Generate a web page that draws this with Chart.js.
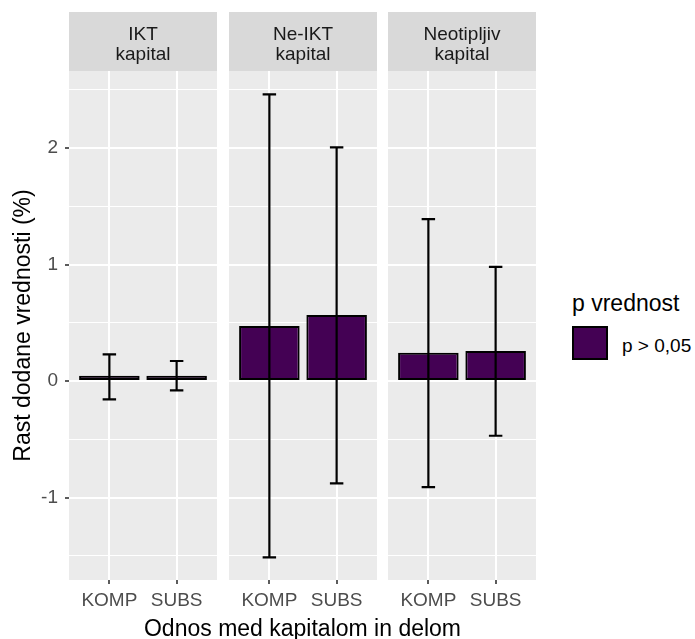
<!DOCTYPE html>
<html><head><meta charset="utf-8">
<script src="https://cdn.jsdelivr.net/npm/chart.js@4"></script>
<style>
html,body{margin:0;padding:0;background:#fff;overflow:hidden;}
#wrap{position:relative;width:695px;height:639px;font-family:'Liberation Sans',Arial,sans-serif;}
canvas{position:absolute;}
.lg-title{position:absolute;left:572px;top:291.5px;font-size:23px;line-height:23px;color:#000;white-space:nowrap;}
.lg-box{position:absolute;left:572px;top:326px;width:36px;height:34px;box-sizing:border-box;border:2px solid #000;}
.lg-label{position:absolute;left:622px;top:335.6px;font-size:19px;line-height:19px;color:#000;white-space:nowrap;}
</style></head>
<body><div id="wrap">
<canvas id="c1" width="217" height="627" style="left:0;top:12px"></canvas>
<canvas id="c3" width="148" height="627" style="left:388px;top:12px"></canvas>
<canvas id="c2" width="467" height="627" style="left:69px;top:12px"></canvas>
<div id="legend"></div>
</div>
<script>
// ---- data ----
const facetTitles = [['IKT', 'kapital'], ['Ne-IKT', 'kapital'], ['Neotipljiv', 'kapital']];
const categories = ['KOMP', 'SUBS'];
const estIKT = [0.045, 0.045];
const estNeIKT = [0.472, 0.567];
const estNeotip = [0.243, 0.258];
const lowIKT = [-0.157, -0.080];
const highIKT = [0.229, 0.172];
const lowNeIKT = [-1.513, -0.878];
const highNeIKT = [2.460, 2.006];
const lowNeotip = [-0.910, -0.470];
const highNeotip = [1.390, 0.980];
const yMajorTicks = [-1, 0, 1, 2];
const yMinorTicks = [-1.5, -0.5, 0.5, 1.5, 2.5];
const seriesLabel = 'p > 0,05';
const legendTitle = 'p vrednost';
const xTitle = 'Odnos med kapitalom in delom';
const yTitle = 'Rast dodane vrednosti (%)';

Chart.defaults.font.family = "'Liberation Sans', Arial, sans-serif";
Chart.defaults.animation = false;

const Y_MIN = -1.708, Y_MAX = 2.661;
const BAR_FILL = '#440154';

const panelPlugin = {
  id: 'panelBg',
  beforeDraw(chart) {
    const {ctx, chartArea: a} = chart;
    ctx.save();
    ctx.fillStyle = '#d9d9d9';
    ctx.fillRect(a.left, 0, a.right - a.left, a.top);
    ctx.fillStyle = '#ebebeb';
    ctx.fillRect(a.left, a.top, a.right - a.left, a.bottom - a.top);
    ctx.restore();
  }
};

const errorBarPlugin = {
  id: 'errorBars',
  afterDatasetsDraw(chart, args, opts) {
    const xs = chart.scales.x, ys = chart.scales.y, ctx = chart.ctx;
    ctx.save();
    ctx.strokeStyle = '#000';
    ctx.lineWidth = 2.2;
    opts.low.forEach((lo, i) => {
      const hi = opts.high[i];
      const pos = i + 1;
      const xc = xs.getPixelForValue(pos);
      const xl = xs.getPixelForValue(pos - 0.1);
      const xr = xs.getPixelForValue(pos + 0.1);
      const yl = ys.getPixelForValue(lo), yh = ys.getPixelForValue(hi);
      ctx.beginPath();
      ctx.moveTo(xl, yh); ctx.lineTo(xr, yh);
      ctx.moveTo(xc, yh); ctx.lineTo(xc, yl);
      ctx.moveTo(xl, yl); ctx.lineTo(xr, yl);
      ctx.stroke();
    });
    ctx.restore();
  }
};

const htmlLegendPlugin = {
  id: 'htmlLegend',
  afterUpdate(chart, args, opts) {
    if (!opts.containerID) return;
    const box = document.getElementById(opts.containerID);
    box.innerHTML = '';
    const t = document.createElement('div');
    t.className = 'lg-title'; t.textContent = opts.title;
    box.appendChild(t);
    const items = Chart.defaults.plugins.legend.labels.generateLabels(chart);
    items.forEach(it => {
      const sw = document.createElement('div');
      sw.className = 'lg-box'; sw.style.background = it.fillStyle;
      box.appendChild(sw);
      const lb = document.createElement('div');
      lb.className = 'lg-label'; lb.textContent = it.text;
      box.appendChild(lb);
    });
  }
};

function isMajor(v) { return yMajorTicks.includes(v); }

function makeChart(id, f, est, low, high, cfg) {
  const yScale = {
    min: Y_MIN, max: Y_MAX,
    afterBuildTicks(s) {
      s.ticks = yMajorTicks.concat(yMinorTicks).sort((a, b) => a - b).map(v => ({value: v}));
    },
    afterFit(s) { s.width = cfg.yWidth; },
    border: {display: false},
    grid: {
      color: '#ffffff',
      lineWidth: c => (c.tick && isMajor(c.tick.value)) ? 2 : 1.1,
      drawTicks: cfg.showY,
      tickLength: 4,
      tickWidth: 1.6,
      tickColor: c => (c.tick && isMajor(c.tick.value)) ? '#333333' : 'rgba(0,0,0,0)'
    },
    ticks: {
      display: cfg.showY,
      autoSkip: false,
      padding: 7,
      color: '#4d4d4d',
      font: {size: 19},
      callback: v => isMajor(v) ? String(v) : ''
    },
    title: {
      display: cfg.showY,
      text: yTitle,
      color: '#000',
      font: {size: 23, lineHeight: 1},
      padding: {top: 0, bottom: 0}
    }
  };
  const scales = {
    x: {
      type: 'linear', min: 0.4, max: 2.6, offset: false,
      afterBuildTicks(s) { s.ticks = categories.map((c, i) => ({value: i + 1})); },
      afterFit(s) { s.height = cfg.xHeight; },
      border: {display: false},
      grid: {offset: false, color: '#ffffff', lineWidth: 2, tickLength: 4, tickWidth: 1.6, tickColor: '#333333'},
      ticks: {
        autoSkip: false, maxRotation: 0, padding: 5, color: '#4d4d4d',
        font: {size: 19, lineHeight: 1.2},
        callback: (v, i) => categories[i]
      }
    },
    y: yScale
  };
  if (cfg.rightWidth) {
    scales.yDummy = {
      position: 'right', display: true,
      grid: {display: false}, border: {display: false}, ticks: {display: false},
      afterFit(s) { s.width = cfg.rightWidth; }
    };
  }
  return new Chart(document.getElementById(id), {
    type: 'bar',
    data: {
      datasets: [{
        label: seriesLabel,
        data: est.map((v, i) => ({x: i + 1, y: v})),
        backgroundColor: BAR_FILL,
        borderColor: '#000000',
        borderWidth: 2,
        borderSkipped: false,
        barPercentage: 0.9,
        categoryPercentage: 1.0
      }]
    },
    options: {
      responsive: false,
      animation: false,
      layout: {padding: {left: cfg.leftPad || 0, right: 0, top: 0, bottom: 0}},
      scales,
      plugins: {
        legend: {display: false},
        tooltip: {enabled: false},
        title: {
          display: true, text: facetTitles[f], fullSize: false, position: 'top',
          color: '#1a1a1a', font: {size: 19, weight: 'normal', lineHeight: 20 / 19},
          padding: {top: 13.1, bottom: 5.9}
        },
        subtitle: {
          display: !!cfg.xTitle, text: xTitle, position: 'bottom', fullSize: true,
          color: '#000', font: {size: 23, lineHeight: 0.85}, padding: {top: 0, bottom: 0}
        },
        errorBars: {low, high},
        htmlLegend: {containerID: cfg.legend ? 'legend' : null, title: legendTitle}
      }
    },
    plugins: [panelPlugin, errorBarPlugin, htmlLegendPlugin]
  });
}

makeChart('c1', 0, estIKT, lowIKT, highIKT, {showY: true, leftPad: 12, yWidth: 57, xHeight: 59});
makeChart('c3', 2, estNeotip, lowNeotip, highNeotip, {showY: false, yWidth: 0, xHeight: 59, legend: true});
makeChart('c2', 1, estNeIKT, lowNeIKT, highNeIKT, {showY: false, yWidth: 160, rightWidth: 159, xHeight: 39.45, xTitle: true});
</script>
</body></html>
